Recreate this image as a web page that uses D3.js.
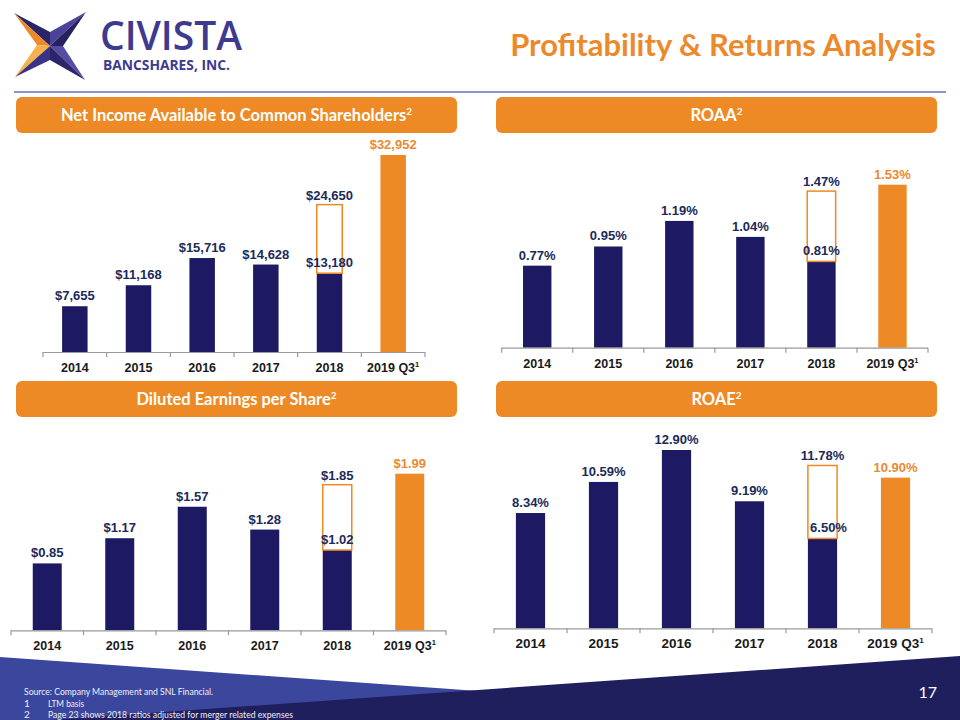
<!DOCTYPE html>
<html><head><meta charset="utf-8">
<script src="https://cdn.jsdelivr.net/npm/d3@7"></script>
<style>body{margin:0;background:#fff}svg{display:block}</style>
</head><body>
<script>
// ---------- data ----------
const categories = ["2014","2015","2016","2017","2018","2019 Q3"];
const netIncome = [7655, 11168, 15716, 14628, 13180, 32952];
const netIncomeAdjusted2018 = 24650;
const roaa = [0.77, 0.95, 1.19, 1.04, 0.81, 1.53];
const roaaAdjusted2018 = 1.47;
const eps = [0.85, 1.17, 1.57, 1.28, 1.02, 1.99];
const epsAdjusted2018 = 1.85;
const roae = [8.34, 10.59, 12.90, 9.19, 6.50, 10.90];
const roaeAdjusted2018 = 11.78;
const chartTitles = ["Net Income Available to Common Shareholders", "ROAA", "Diluted Earnings per Share", "ROAE"];
const footnotes = ["Source: Company Management and SNL Financial.", "LTM basis", "Page 23 shows 2018 ratios adjusted for merger related expenses"];

// ---------- styles ----------
const NAVY = "#1d1a63", ORANGE = "#ee8a25", LABEL = "#1b2a5a", AXIS_TXT = "#1a1a1a";
const NUM_FONT = "'Liberation Sans', Arial, sans-serif";
const CAL_FONT = "Lato, 'Open Sans', sans-serif";

const svg = d3.select("body").append("svg").attr("width", 960).attr("height", 720);

// fit a text's font size so that its width equals the target width
function fitWidth(sel, target, size) {
  sel.attr("font-size", size);
  const w = sel.node().getComputedTextLength();
  if (w > 0) sel.attr("font-size", size * target / w);
  return sel;
}

// ---------- logo ----------
const logo = svg.append("g");
const T1=[14,13], T2=[86,12], T3=[85,80], T4=[15,77], C=[50,46];
const It=[50,32], Ir=[63,46], Ib=[50,60], Il=[37,45];
const faces = [
  [[T1,It,C], "#2a2566"], [[T1,C,Il], "#ec8a2b"], [[T4,Il,C], "#f6b24a"], [[T4,C,Ib], "#3a3385"],
  [[T2,It,C], "#4a4399"], [[T2,C,Ir], "#26215f"], [[T3,Ir,C], "#564ca6"], [[T3,C,Ib], "#2b2569"]
];
logo.selectAll("polygon").data(faces).join("polygon")
  .attr("points", d => d[0].map(p => p.join(",")).join(" "))
  .attr("fill", d => d[1]);
fitWidth(logo.append("text").attr("x", 100).attr("y", 50).text("CIVISTA")
  .attr("font-family", "'Open Sans', sans-serif").attr("font-weight", 600)
  .attr("fill", "#3e3a8f"), 142, 38);
fitWidth(logo.append("text").attr("x", 103).attr("y", 69.5).text("BANCSHARES, INC.")
  .attr("font-family", "'Open Sans', sans-serif").attr("font-weight", 700)
  .attr("fill", "#3e3a8f"), 127, 12);

// ---------- title ----------
fitWidth(svg.append("text").attr("x", 936).attr("y", 56).attr("text-anchor", "end")
  .text("Profitability & Returns Analysis")
  .attr("font-family", CAL_FONT).attr("font-weight", 700)
  .attr("fill", "#ec8a2b"), 426, 32);
svg.append("line").attr("x1", 14).attr("x2", 946).attr("y1", 92).attr("y2", 92)
  .attr("stroke", "#8e93cc").attr("stroke-width", 2);

// ---------- footer ----------
svg.append("polygon").attr("points", "0,657 960,725 0,725").attr("fill", "#3b479d");
svg.append("polygon").attr("points", "50,720 960,656 960,720").attr("fill", "#201f5e");
const ft = svg.append("g").attr("font-family", CAL_FONT).attr("font-size", 10).attr("fill", "#eef0f8");
ft.append("text").attr("x", 24).attr("y", 695).text(footnotes[0]).attr("textLength", 189).attr("lengthAdjust", "spacingAndGlyphs");
ft.append("text").attr("x", 24).attr("y", 707).text("1");
ft.append("text").attr("x", 48).attr("y", 707).text(footnotes[1]).attr("textLength", 36).attr("lengthAdjust", "spacingAndGlyphs");
ft.append("text").attr("x", 24).attr("y", 718).text("2");
ft.append("text").attr("x", 48).attr("y", 718).text(footnotes[2]).attr("textLength", 245).attr("lengthAdjust", "spacingAndGlyphs");
svg.append("text").attr("x", 937).attr("y", 698).attr("text-anchor", "end").text("17")
  .attr("font-family", CAL_FONT).attr("font-size", 16).attr("fill", "#ffffff");

// ---------- charts ----------
const charts = [
  { title: chartTitles[0], values: netIncome, adj: netIncomeAdjusted2018, fmt: v => "$" + d3.format(",")(v),
    x0: 43, x1: 425, base: 352, top: 155, box: [16, 97], titleY: 121, xFont: 12.5, inDx: 0 },
  { title: chartTitles[1], values: roaa, adj: roaaAdjusted2018, fmt: v => d3.format(".2f")(v) + "%",
    x0: 501.7, x1: 928, base: 347.7, top: 184.7, box: [496, 97], titleY: 121, xFont: 12.5, inDx: 0 },
  { title: chartTitles[2], values: eps, adj: epsAdjusted2018, fmt: v => "$" + d3.format(".2f")(v),
    x0: 11, x1: 446, base: 630.3, top: 473.7, box: [16, 381], titleY: 405, xFont: 12.5, inDx: 0 },
  { title: chartTitles[3], values: roae, adj: roaeAdjusted2018, fmt: v => d3.format(".2f")(v) + "%",
    x0: 494, x1: 932, base: 628.3, top: 450, box: [496, 381], titleY: 405, xFont: 13.5, inDx: 6 }
];

charts.forEach(c => {
  const g = svg.append("g");
  // header box
  g.append("rect").attr("x", c.box[0]).attr("y", c.box[1]).attr("width", 441).attr("height", 36)
    .attr("rx", 6).attr("fill", ORANGE);
  const tt = g.append("text").attr("x", c.box[0] + 220.5).attr("y", c.titleY).attr("text-anchor", "middle")
    .attr("font-family", CAL_FONT).attr("font-weight", 700).attr("font-size", 16.5).attr("fill", "#fff");
  tt.append("tspan").text(c.title);
  tt.append("tspan").text("2").attr("font-size", 10).attr("dy", -6);

  const data = categories.map((k, i) => ({ k, v: c.values[i], i }));
  const x = d3.scaleBand().domain(categories).range([c.x0, c.x1]).paddingInner(0.6).paddingOuter(0.3);
  const y = d3.scaleLinear().domain([0, d3.max(c.values)]).range([c.base, c.top]);
  const step = x.step();

  // bars
  g.selectAll("rect.bar").data(data).join("rect").attr("class", "bar")
    .attr("x", d => x(d.k)).attr("width", x.bandwidth())
    .attr("y", d => y(d.v)).attr("height", d => y(0) - y(d.v))
    .attr("fill", d => d.i === 5 ? ORANGE : NAVY);

  // adjusted 2018 outline
  const k18 = categories[4];
  g.append("rect").attr("x", x(k18)).attr("width", x.bandwidth())
    .attr("y", y(c.adj)).attr("height", y(c.values[4]) - y(c.adj))
    .attr("fill", "#fff").attr("stroke", ORANGE).attr("stroke-width", 1.5);

  // axis line & boundary ticks
  const bounds = categories.map(k => x(k) - step * 0.3).concat([c.x1]);
  g.append("line").attr("x1", c.x0).attr("x2", c.x1).attr("y1", c.base + 0.5).attr("y2", c.base + 0.5)
    .attr("stroke", "#9a9a9a").attr("stroke-width", 1.2);
  g.selectAll("line.tk").data(bounds).join("line").attr("class", "tk")
    .attr("x1", d => d).attr("x2", d => d).attr("y1", c.base).attr("y2", c.base + 5)
    .attr("stroke", "#9a9a9a").attr("stroke-width", 1.2);

  // x labels
  const ax = g.append("g").attr("transform", `translate(0,${c.base})`)
    .call(d3.axisBottom(x).tickSize(0).tickPadding(0));
  ax.select(".domain").remove();
  ax.selectAll("text").attr("dy", null).attr("y", 20).attr("font-family", NUM_FONT).attr("font-weight", 700)
    .attr("font-size", c.xFont).attr("fill", AXIS_TXT);
  ax.selectAll("text").filter(d => d === categories[5])
    .append("tspan").text("1").attr("font-size", c.xFont * 0.6).attr("dy", -5);

  // value labels
  g.selectAll("text.val").data(data).join("text").attr("class", "val")
    .attr("x", d => x(d.k) + x.bandwidth() / 2 + (d.i === 4 ? c.inDx : 0))
    .attr("y", d => y(d.v) - 6)
    .attr("text-anchor", "middle").attr("font-family", NUM_FONT).attr("font-weight", 700).attr("font-size", 13)
    .attr("fill", d => d.i === 5 ? "#ea8a30" : LABEL)
    .text(d => c.fmt(d.v));
  g.append("text").attr("x", x(k18) + x.bandwidth() / 2).attr("y", y(c.adj) - 5)
    .attr("text-anchor", "middle").attr("font-family", NUM_FONT).attr("font-weight", 700).attr("font-size", 13)
    .attr("fill", LABEL).text(c.fmt(c.adj));
});
</script>
</body></html>
